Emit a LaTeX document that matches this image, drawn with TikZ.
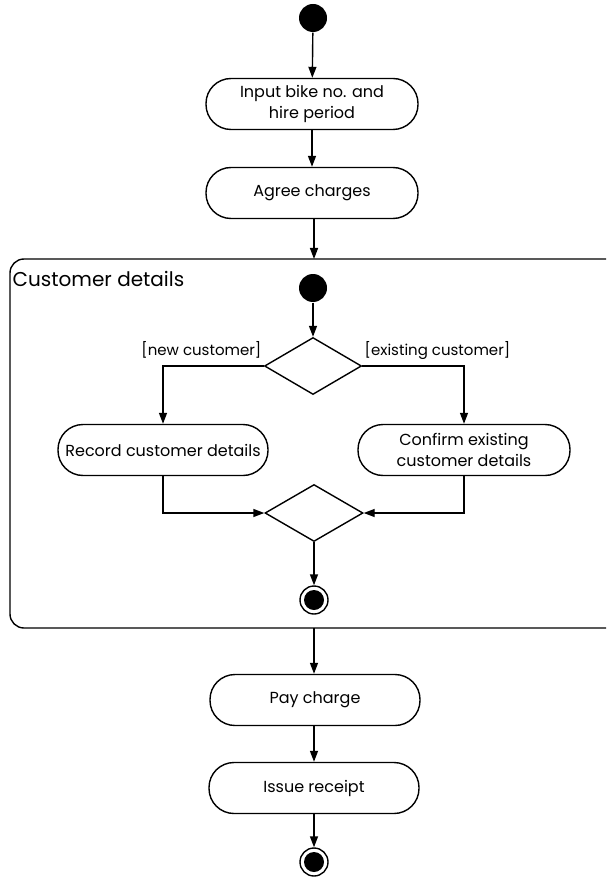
\documentclass[tikz,border=0pt]{standalone}
\usepackage{fontspec}
\setmainfont{Poppins}
\usetikzlibrary{arrows.meta,shapes.geometric}
\begin{document}
\begin{tikzpicture}[x=1pt,y=-1pt,line width=1.4pt,
  action/.style={draw,rectangle,rounded corners=25pt,minimum width=212pt,minimum height=51pt,
    align=center,inner sep=2pt,font=\fontsize{16}{21}\selectfont},
  startnode/.style={circle,fill=black,minimum size=28pt,inner sep=0pt},
  endnode/.style={circle,draw,minimum size=28pt,inner sep=0pt,
    path picture={\fill (path picture bounding box.center) circle (10pt);}},
  decision/.style={draw,diamond,minimum width=97pt,minimum height=57pt,inner sep=0pt},
  arr/.style={-{Triangle[length=11pt,width=8pt]}},
  guard/.style={font=\fontsize{15}{18}\selectfont,inner sep=0pt}]
\useasboundingbox (0,0) rectangle (606,882);
\begin{scope}
\clip (0,0) rectangle (606,882);
\draw[rounded corners=14pt] (10,259) rectangle (624,628);
\end{scope}
\node[anchor=base west,inner sep=0pt,font=\fontsize{20}{24}\selectfont] (title) at (12,287) {Customer details};

\node[startnode] (start) at (313,18) {};
\node[action] (input) at (312,104) {Input bike no. and\\hire period};
\node[action] (agree) at (312,193) {Agree charges};
\coordinate (ftop) at (314,259);
\node[startnode] (istart) at (313,288) {};
\node[decision] (d1) at (313,366) {};
\node[action,minimum width=210pt] (rec) at (163,450) {Record customer details};
\node[action] (conf) at (464,450) {Confirm existing\\customer details};
\node[decision,minimum width=98pt] (d2) at (314,513) {};
\node[endnode] (iend) at (314,600) {};
\coordinate (fbot) at (314,628);
\node[action,minimum width=210pt] (pay) at (315,700) {Pay charge};
\node[action,minimum width=210pt] (receipt) at (314,788) {Issue receipt};
\node[endnode] (end) at (314,862) {};

\node[guard,anchor=base east] (gnew) at (262,355) {[new customer]};
\node[guard,anchor=base west] (gex) at (364,355) {[existing customer]};

\draw[arr] (start) -- (input);
\draw[arr] (input) -- (agree);
\draw[arr] (agree.south -| ftop) -- (ftop);
\draw[arr] (istart) -- (d1);
\draw[arr] (d1.west) -| (rec.north);
\draw[arr] (d1.east) -| (conf.north);
\draw[arr] (rec.south) |- (d2.west);
\draw[arr] (conf.south) |- (d2.east);
\draw[arr] (d2) -- (iend);
\draw[arr] (fbot) -- (pay.north -| fbot);
\draw[arr] (pay.south -| receipt) -- (receipt);
\draw[arr] (receipt) -- (end);
\end{tikzpicture}
\end{document}
